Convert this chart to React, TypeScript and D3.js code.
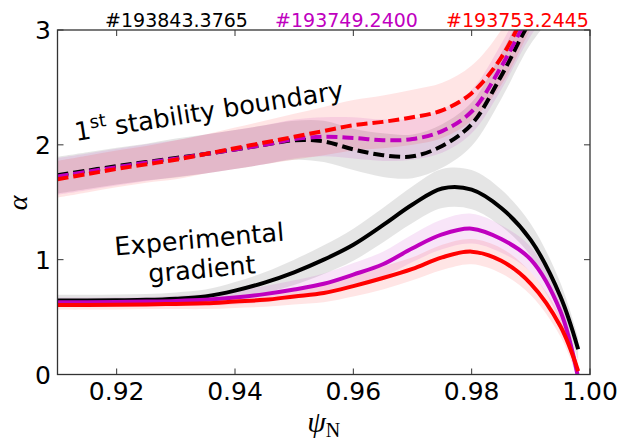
import React, { useEffect, useRef } from "react";
import * as d3 from "d3";

// shots
const shots = ["#193843.3765", "#193749.2400", "#193753.2445"];
const shotColors = ["#000000", "#bf00bf", "#ff0000"];

// experimental gradient (solid)
const psiExp = [0.91, 0.915, 0.92, 0.925, 0.93, 0.935, 0.94, 0.945, 0.95, 0.955, 0.96, 0.965, 0.97, 0.975, 0.98, 0.985, 0.99, 0.995, 0.998];
const expBlack = [0.645, 0.645, 0.647, 0.65, 0.66, 0.68, 0.73, 0.8, 0.89, 1.0, 1.13, 1.3, 1.48, 1.62, 1.61, 1.45, 1.17, 0.68, 0.22];
const expMagenta = [0.63, 0.63, 0.632, 0.635, 0.64, 0.65, 0.67, 0.7, 0.74, 0.79, 0.87, 0.96, 1.1, 1.22, 1.27, 1.18, 1.0, 0.55, -0.03];
const expRed = [0.605, 0.605, 0.607, 0.61, 0.615, 0.62, 0.635, 0.65, 0.68, 0.71, 0.77, 0.84, 0.92, 1.02, 1.07, 0.99, 0.79, 0.42, 0.03];
const expBandBlack = [0.05, 0.05, 0.05, 0.05, 0.055, 0.06, 0.075, 0.09, 0.11, 0.125, 0.14, 0.15, 0.16, 0.17, 0.17, 0.16, 0.14, 0.12, 0.1];
const expBandMagenta = [0.04, 0.04, 0.04, 0.04, 0.045, 0.05, 0.06, 0.07, 0.08, 0.09, 0.1, 0.11, 0.12, 0.13, 0.13, 0.12, 0.11, 0.1, 0.09];
const expBandRed = [0.04, 0.04, 0.04, 0.04, 0.045, 0.05, 0.055, 0.06, 0.07, 0.08, 0.09, 0.1, 0.1, 0.11, 0.11, 0.11, 0.1, 0.09, 0.08];

// 1st stability boundary (dashed)
const psiStab = [0.91, 0.915, 0.92, 0.925, 0.93, 0.935, 0.94, 0.945, 0.95, 0.955, 0.96, 0.965, 0.97, 0.975, 0.98, 0.985, 0.99, 0.995];
const stabBlack = [1.735, 1.775, 1.815, 1.85, 1.885, 1.92, 1.96, 2.0, 2.04, 2.03, 1.96, 1.91, 1.9, 1.99, 2.18, 2.6, 3.08, 3.4];
const stabMagenta = [1.725, 1.765, 1.805, 1.845, 1.88, 1.92, 1.96, 2.0, 2.05, 2.07, 2.06, 2.04, 2.05, 2.12, 2.29, 2.68, 3.15, 3.5];
const stabRed = [1.7, 1.745, 1.79, 1.83, 1.87, 1.92, 1.97, 2.02, 2.07, 2.12, 2.17, 2.2, 2.24, 2.3, 2.45, 2.76, 3.25, 3.7];
const stabBandBlack = [0.16, 0.16, 0.16, 0.16, 0.17, 0.17, 0.17, 0.17, 0.17, 0.18, 0.18, 0.19, 0.19, 0.19, 0.19, 0.2, 0.2, 0.2];
const stabBandMagenta = [0.16, 0.16, 0.16, 0.16, 0.16, 0.17, 0.17, 0.17, 0.17, 0.17, 0.18, 0.18, 0.18, 0.19, 0.19, 0.2, 0.2, 0.2];
const stabBandRed = [0.16, 0.16, 0.16, 0.16, 0.17, 0.17, 0.18, 0.19, 0.2, 0.21, 0.22, 0.23, 0.24, 0.24, 0.24, 0.24, 0.24, 0.24];

const xTicks = [0.92, 0.94, 0.96, 0.98, 1.0];
const yTicks = [0, 1, 2, 3];

type Pt = { x: number; y: number; w: number };

const zip = (xs: number[], ys: number[], ws: number[]): Pt[] =>
  xs.map((x, i) => ({ x, y: ys[i], w: ws[i] }));

export default function App() {
  const ref = useRef<SVGSVGElement>(null);

  useEffect(() => {
    const svg = d3.select(ref.current);
    svg.selectAll("*").remove();

    const margin = { top: 30, right: 31, bottom: 66.5, left: 57.5 },
      width = 621 - margin.left - margin.right,
      height = 441 - margin.top - margin.bottom;

    const x = d3.scaleLinear().domain([0.91, 1.0]).range([0, width]);
    const y = d3.scaleLinear().domain([0, 3]).range([height, 0]);

    const g = svg.append("g").attr("transform", `translate(${margin.left},${margin.top})`);

    g.append("clipPath").attr("id", "plot-clip")
      .append("rect").attr("width", width).attr("height", height);

    const plot = g.append("g").attr("clip-path", "url(#plot-clip)");

    const curve = d3.curveCatmullRom.alpha(0.5);
    const line = d3.line<Pt>().x(d => x(d.x)).y(d => y(d.y)).curve(curve);
    const area = d3.area<Pt>().x(d => x(d.x)).y0(d => y(d.y - d.w)).y1(d => y(d.y + d.w)).curve(curve);

    const exp = [
      zip(psiExp, expBlack, expBandBlack),
      zip(psiExp, expMagenta, expBandMagenta),
      zip(psiExp, expRed, expBandRed),
    ];
    const stab = [
      zip(psiStab, stabBlack, stabBandBlack),
      zip(psiStab, stabMagenta, stabBandMagenta),
      zip(psiStab, stabRed, stabBandRed),
    ];

    // shaded uncertainty bands
    shotColors.forEach((c, i) => {
      plot.append("path").datum(exp[i]).attr("d", area)
        .attr("fill", c).attr("fill-opacity", 0.1);
      plot.append("path").datum(stab[i]).attr("d", area)
        .attr("fill", c).attr("fill-opacity", 0.1);
    });

    // lines
    shotColors.forEach((c, i) => {
      plot.append("path").datum(exp[i]).attr("d", line)
        .attr("fill", "none").attr("stroke", c).attr("stroke-width", 4);
      plot.append("path").datum(stab[i]).attr("d", line)
        .attr("fill", "none").attr("stroke", c).attr("stroke-width", 4)
        .attr("stroke-dasharray", "11,5");
    });

    // frame
    g.append("rect").attr("width", width).attr("height", height)
      .attr("fill", "none").attr("stroke", "#333").attr("stroke-width", 1.3);

    const tickLen = 6;
    const ticks = g.append("g").attr("stroke", "#333").attr("stroke-width", 1);
    xTicks.forEach(t => {
      ticks.append("line").attr("x1", x(t)).attr("x2", x(t)).attr("y1", height).attr("y2", height - tickLen);
      ticks.append("line").attr("x1", x(t)).attr("x2", x(t)).attr("y1", 0).attr("y2", tickLen);
    });
    yTicks.forEach(t => {
      ticks.append("line").attr("x1", 0).attr("x2", tickLen).attr("y1", y(t)).attr("y2", y(t));
      ticks.append("line").attr("x1", width).attr("x2", width - tickLen).attr("y1", y(t)).attr("y2", y(t));
    });

    const font = "'DejaVu Sans', sans-serif";

    g.selectAll(".xl").data(xTicks).join("text")
      .attr("x", d => x(d)).attr("y", height + 25.5)
      .attr("text-anchor", "middle").attr("font-family", font).attr("font-size", 25)
      .text(d => d3.format(".2f")(d));

    g.selectAll(".yl").data(yTicks).join("text")
      .attr("x", -6.5).attr("y", d => y(d)).attr("dy", "0.36em")
      .attr("text-anchor", "end").attr("font-family", font).attr("font-size", 25)
      .text(d => d);

    // shot labels
    const cx = [176.5, 346.5, 517.5];
    shots.forEach((s, i) => {
      svg.append("text").attr("x", cx[i]).attr("y", 27)
        .attr("text-anchor", "middle").attr("font-family", font).attr("font-size", 19)
        .attr("fill", shotColors[i]).text(s);
    });

    // annotations
    const ann1 = svg.append("text").attr("transform", "translate(76,141) rotate(-9)")
      .attr("font-family", font).attr("font-size", 25.5);
    ann1.append("tspan").text("1");
    ann1.append("tspan").attr("font-size", 18).attr("dy", -10).text("st");
    ann1.append("tspan").attr("dy", 10).text(" stability boundary");

    const ann2 = svg.append("g").attr("transform", "translate(200,248) rotate(-5)")
      .attr("font-family", font).attr("font-size", 25.5).attr("text-anchor", "middle");
    ann2.append("text").text("Experimental");
    ann2.append("text").attr("y", 30).text("gradient");

    // axis labels
    svg.append("text").attr("transform", "translate(27,203) rotate(-90)")
      .attr("text-anchor", "middle").attr("font-family", "'Liberation Serif', serif")
      .attr("font-style", "italic").attr("font-size", 28).text("α");

    const xl = svg.append("text").attr("x", margin.left + width / 2).attr("y", 432)
      .attr("text-anchor", "middle").attr("font-family", "'Liberation Serif', serif").attr("font-size", 30);
    xl.append("tspan").attr("font-style", "italic").text("ψ");
    xl.append("tspan").attr("font-size", 20).attr("dy", 5).text("N");
  }, []);

  return (
    <svg ref={ref} width={621} height={441}
      style={{ position: "absolute", left: 0, top: 0, background: "#fff" }} />
  );
}
